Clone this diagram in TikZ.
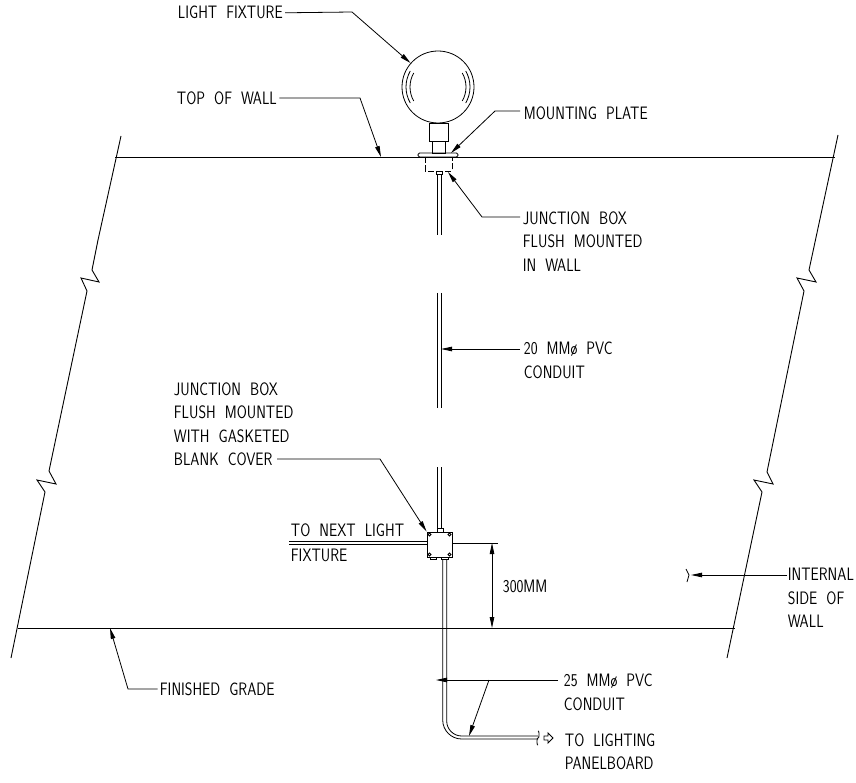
\documentclass[tikz,border=0pt]{standalone}
\usetikzlibrary{arrows.meta}
\tikzset{wall/.style={line width=0.9pt},
         tip/.style={-{Stealth[inset=0pt,length=11pt,width=4.5pt]}},
         leader/.style={line width=0.8pt, tip},
         note/.style={font=\fontsize{18}{23.5}\selectfont\sffamily, align=left, anchor=north west, inner sep=0pt,
           outer xsep=3pt, transform shape, xscale=0.81,
           execute at begin node={\setlength{\spaceskip}{0.62em}}}}
\begin{document}
\begin{tikzpicture}[x=1pt,y=-1pt,line width=0.8pt]
    \useasboundingbox (0,0) rectangle (856,783);
    % walls
    \draw[wall] (98,240)--(121,136);
    \draw[wall] (98,240)--(92,270)--(99,282)--(81,278)--(87,291)--(49,471)--(56,484)--(37,480)--(45,492)--(11,658);
    \draw[wall] (838,135)--(809,270)--(816,282)--(797,278)--(804,291)--(767,472)--(773,484)--(754,480)--(762,492)--(727,658);
    \draw[wall] (115,157)--(835,157);
    \draw[wall] (18,628)--(735,628);
    % light fixture
    \node[circle, draw, minimum size=72pt, inner sep=0pt] (globe) at (438,87) {};
    \foreach \rad in {32,28} {
      \draw (globe.center) ++(150:\rad pt) arc [start angle=150, end angle=210, radius=\rad pt];
      \draw (globe.center) ++(-30:\rad pt) arc [start angle=-30, end angle=30, radius=\rad pt];
    }
    \draw (429,123) rectangle (448,141);
    \draw (432,141) rectangle (445,153);
    \draw[rounded corners=1.5pt] (418,157) rectangle (458,153);
    \draw[dash pattern=on 6pt off 2.5pt] (425,157)--(425,171)--(452,171)--(452,157);
    \draw (436,171) rectangle (442,174);
    % conduit, upper runs
    \foreach \x in {437.5,441} {
      \draw (\x,174)--(\x,235);
      \draw (\x,293)--(\x,408);
      \draw (\x,467)--(\x,528);
    }
    % junction box
    \node[draw, minimum width=25pt, minimum height=25pt, inner sep=0pt] (jbox) at (439.5,544.5) {};
    \foreach \x/\y in {429.5/534.5,449.5/534.5,429.5/554.5,449.5/554.5}
      \draw (\x,\y) circle [radius=1.5pt];
    \draw (437,528) rectangle (443,532);
    \draw (430,557) rectangle (436,559);
    \draw (441,557) rectangle (448,559);
    \coordinate (nextA) at (289,541);
    \coordinate (nextB) at (289,544);
    \draw (nextA)--(nextA -| jbox.west);
    \draw (nextB)--(nextB -| jbox.west);
    % conduit to panelboard
    \draw (442.7,559)--(442.7,720) arc [start angle=180, end angle=270, radius=19pt]--(538,739);
    \draw (446.7,559)--(446.7,721) arc [start angle=180, end angle=270, radius=15pt]--(538,736);
    \draw (538,731) to[out=60,in=-60] (538,738) to[out=120,in=-120] (538,745);
    \draw[line width=0.9pt] (544,736) -- (548,736) -- (548,733) -- (553,738) -- (548,743) -- (548,740) -- (544,740) -- cycle;
    % dimension
    \coordinate (dimTop) at (492,543);
    \coordinate (dimBot) at (492,628);
    \draw (jbox.east |- dimTop)--(498,543);
    \draw[{Stealth[inset=0pt,length=11pt,width=4.5pt]}-{Stealth[inset=0pt,length=11pt,width=4.5pt]}] (dimTop)--(dimBot);
    % notes
    \node[note] (lblFixture) at (175.5,6) {LIGHT FIXTURE};
    \node[note] (lblTop) at (174.5,91) {TOP OF WALL};
    \node[note] (lblPlate) at (521.5,106) {MOUNTING PLATE};
    \node[note] (lblBox) at (520.5,211) {JUNCTION BOX\\FLUSH MOUNTED\\IN WALL};
    \node[note] (lblTwenty) at (521.5,342) {20 MM\o{} PVC\\CONDUIT};
    \node[note] (lblBlank) at (171.5,382) {JUNCTION BOX\\FLUSH MOUNTED\\WITH GASKETED\\BLANK COVER};
    \node[note] (lblNext) at (288.5,523) {TO NEXT LIGHT};
    \node[note] (lblFix) at (288.5,549) {FIXTURE};
    \node[note] (lblDim) at (500.5,580) {300MM};
    \node[note] (lblWall) at (785.5,568) {INTERNAL\\SIDE OF\\WALL};
    \node[note] (lblGrade) at (157.5,682) {FINISHED GRADE};
    \node[note] (lblTwentyFive) at (561.5,674) {25 MM\o{} PVC\\CONDUIT};
    \node[note] (lblPanel) at (562.5,733) {TO LIGHTING\\PANELBOARD};
    % leaders
    \coordinate (fromPlate) at (520,111);
    \coordinate (fromBox) at (520,217);
    \coordinate (fromTwenty) at (520,349);
    \coordinate (fromBlank) at (277,459);
    \coordinate (fromWall) at (787,575);
    \coordinate (fromFive) at (558,680);
    \draw[leader] (lblFixture.east)--(352,12)--(globe);
    \draw[leader] (lblTop.east)--(360,98)--(381,157);
    \draw[leader] (fromPlate)--(495,111)--(451,153);
    \draw[leader] (fromBox)--(482,217)--(448,172);
    \draw[leader] (fromTwenty)--(441,349);
    \draw[leader] (fromBlank)--(380,459)--(jbox.north west);
    \draw[leader] (lblGrade.west)--(128,689)--(110,628);
    \draw[leader] (fromWall)--(691,575);
    \draw (686,569)--(689,575)--(687,582);
    \draw[leader] (fromFive)--(436,680);
    \draw[leader] (489,680)--(469,736);
\end{tikzpicture}
\end{document}
